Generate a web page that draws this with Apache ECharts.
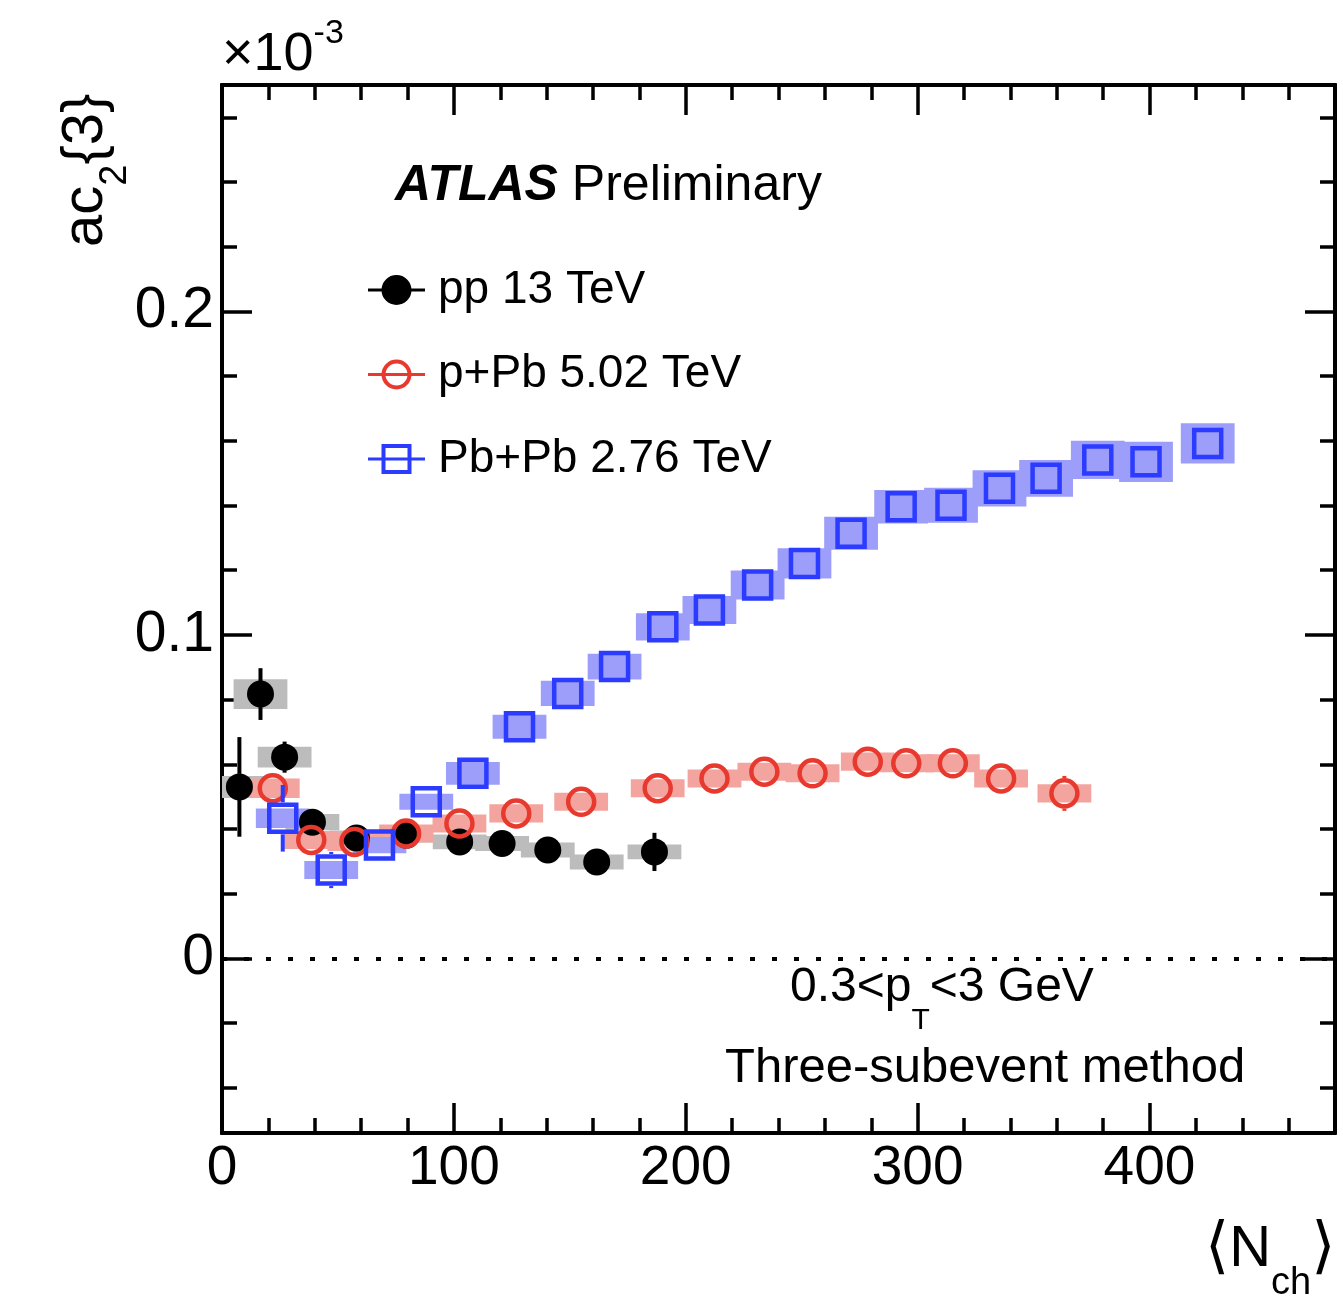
<!DOCTYPE html>
<html>
<head>
<meta charset="utf-8">
<script src="https://cdn.jsdelivr.net/npm/echarts@6/dist/echarts.min.js"></script>
<style>
  html, body { margin: 0; padding: 0; background: #fff; }
  #chart { width: 1343px; height: 1297px; }
</style>
</head>
<body>
<div id="chart"></div>
<script>
// ac2{3} versus <Nch>, values in units of 1e-3

// pp 13 TeV
const ppNch  = [7.5, 16.6, 27.0, 39.0, 58.0, 79.6, 102.5, 120.8, 140.5, 161.6, 186.5];
const ppAc   = [0.0530, 0.0817, 0.0622, 0.0421, 0.0372, 0.0381, 0.0360, 0.0355, 0.0335, 0.0298, 0.0329];
const ppStat = [0.0154, 0.0080, 0.0048, 0.0030, 0.0025, 0.0025, 0.0025, 0.0025, 0.0030, 0.0035, 0.0059];
const ppSys  = [0.0034, 0.0046, 0.0032, 0.0025, 0.0023, 0.0023, 0.0023, 0.0023, 0.0023, 0.0023, 0.0023];

// p+Pb 5.02 TeV
const pPbNch  = [21.9, 38.5, 57.1, 79.4, 102.4, 126.9, 154.9, 187.9, 212.4, 233.9, 254.7, 278.5, 295.1, 315.2, 336.0, 363.3];
const pPbAc   = [0.0526, 0.0366, 0.0360, 0.0386, 0.0417, 0.0448, 0.0484, 0.0526, 0.0556, 0.0577, 0.0572, 0.0608, 0.0603, 0.0603, 0.0556, 0.0510];
const pPbStat = [0.0035, 0.0030, 0.0025, 0.0020, 0.0020, 0.0020, 0.0020, 0.0020, 0.0022, 0.0025, 0.0028, 0.0030, 0.0033, 0.0038, 0.0045, 0.0054];
const pPbSys  = [0.0030, 0.0028, 0.0028, 0.0028, 0.0028, 0.0028, 0.0028, 0.0028, 0.0028, 0.0028, 0.0028, 0.0028, 0.0028, 0.0028, 0.0028, 0.0028];

// Pb+Pb 2.76 TeV
const PbPbNch  = [26.2, 47.1, 67.9, 88.1, 108.2, 128.3, 149.1, 169.3, 190.1, 210.2, 231.0, 251.2, 271.3, 292.9, 314.4, 335.3, 355.4, 377.7, 398.5, 425.1];
const PbPbAc   = [0.0433, 0.0273, 0.0350, 0.0484, 0.0572, 0.0716, 0.0819, 0.0902, 0.1025, 0.1077, 0.1154, 0.1221, 0.1314, 0.1396, 0.1401, 0.1453, 0.1484, 0.1541, 0.1535, 0.1592];
const PbPbStat = [0.0103, 0.0056, 0.0030, 0.0025, 0.0025, 0.0025, 0.0025, 0.0025, 0.0025, 0.0025, 0.0025, 0.0025, 0.0025, 0.0025, 0.0025, 0.0025, 0.0025, 0.0025, 0.0025, 0.0025];
const PbPbSys  = [0.0030, 0.0028, 0.0025, 0.0025, 0.0035, 0.0037, 0.0039, 0.0040, 0.0042, 0.0043, 0.0045, 0.0047, 0.0051, 0.0052, 0.0054, 0.0056, 0.0057, 0.0059, 0.0062, 0.0062];

// axis ranges and labelled ticks
const X_MIN = 0, X_MAX = 480;
const Y_MIN = -0.054, Y_MAX = 0.27;
const xTickLabels = [0, 100, 200, 300, 400];
const yTickLabels = [0, 0.1, 0.2];

const FONT = "'Liberation Sans', Arial, Helvetica, sans-serif";
const BOX_HALF_WIDTH = 11.6;   // half width of systematic boxes, in <Nch>

const BLACK = '#000000';
const GRAY_BOX = '#bcbcbc';
const RED = '#e8392e';
const RED_BOX = '#f3a49e';
const BLUE = '#2b3bff';
const BLUE_BOX = '#9d9dfa';

// minor tick positions between the labelled ones
function minorTicks(min, max, step, majors) {
  const out = [];
  const start = Math.ceil(min / step - 1e-9);
  const end = Math.floor(max / step + 1e-9);
  for (let i = start; i <= end; i++) {
    const v = Math.round(i * step * 1e6) / 1e6;
    if (v <= min || v >= max) continue;
    if (majors.some(m => Math.abs(m - v) < 1e-9)) continue;
    out.push(v);
  }
  return out;
}
const xMinor = minorTicks(X_MIN, X_MAX, 20, xTickLabels);
const yMinor = minorTicks(Y_MIN, Y_MAX, 0.02, yTickLabels);

const rows3 = (a, b, c) => a.map((v, i) => [v, b[i], c[i]]);
const rows2 = (a, b) => a.map((v, i) => [v, b[i]]);

// systematic uncertainty boxes
function boxRenderer(fill) {
  return function (params, api) {
    const x = api.value(0), y = api.value(1), s = api.value(2);
    const p1 = api.coord([x - BOX_HALF_WIDTH, y + s]);
    const p2 = api.coord([x + BOX_HALF_WIDTH, y - s]);
    const cs = params.coordSys;
    const shape = echarts.graphic.clipRectByRect(
      { x: p1[0], y: p1[1], width: p2[0] - p1[0], height: p2[1] - p1[1] },
      { x: cs.x, y: cs.y, width: cs.width, height: cs.height });
    return shape && { type: 'rect', shape: shape, style: { fill: fill } };
  };
}

// statistical error bars, drawn outside the marker only
function statRenderer(color, r) {
  return function (params, api) {
    const x = api.value(0), y = api.value(1), e = api.value(2);
    const c = api.coord([x, y]);
    const top = api.coord([x, y + e])[1];
    const bot = api.coord([x, y - e])[1];
    const children = [];
    if (c[1] - r > top) children.push({ type: 'line', shape: { x1: c[0], y1: top, x2: c[0], y2: c[1] - r }, style: { stroke: color, lineWidth: 4 } });
    if (bot > c[1] + r) children.push({ type: 'line', shape: { x1: c[0], y1: c[1] + r, x2: c[0], y2: bot }, style: { stroke: color, lineWidth: 4 } });
    return { type: 'group', children: children };
  };
}

function boxSeries(name, nch, ac, sys, fill) {
  return { type: 'custom', name: name + ' sys', xAxisIndex: 0, yAxisIndex: 0, z: 2,
    renderItem: boxRenderer(fill), encode: { x: 0, y: 1 }, data: rows3(nch, ac, sys), silent: true };
}
function statSeries(name, nch, ac, stat, color, r, z) {
  return { type: 'custom', name: name + ' stat', xAxisIndex: 0, yAxisIndex: 0, z: z,
    renderItem: statRenderer(color, r), encode: { x: 0, y: 1 }, data: rows3(nch, ac, stat), silent: true };
}

// axes: four overlaid grids carry the labelled ticks, minor ticks, and mirrored ticks
const GRID = { left: 222, right: 8, top: 85, bottom: 164 };
const grids = [0, 1, 2, 3].map(() => Object.assign({}, GRID));
const lineStyle = { color: '#000', width: 4 };

function xAxisDef(grid, pos, ticks, len, labels) {
  return {
    type: 'value', gridIndex: grid, position: pos, min: X_MIN, max: X_MAX,
    axisLine: { show: true, onZero: false, lineStyle: lineStyle },
    axisTick: { show: true, inside: true, length: len, customValues: ticks, lineStyle: { color: '#000', width: 3.5 } },
    axisLabel: labels
      ? { show: true, customValues: xTickLabels, fontSize: 55, fontFamily: FONT, color: '#000', margin: 8 }
      : { show: false },
    splitLine: { show: false }
  };
}
function yAxisDef(grid, pos, ticks, len, labels) {
  return {
    type: 'value', gridIndex: grid, position: pos, min: Y_MIN, max: Y_MAX,
    axisLine: { show: true, onZero: false, lineStyle: lineStyle },
    axisTick: { show: true, inside: true, length: len, customValues: ticks, lineStyle: { color: '#000', width: 3.5 } },
    axisLabel: labels
      ? { show: true, customValues: yTickLabels, fontSize: 57, fontFamily: FONT, color: '#000', margin: 8,
          formatter: v => String(v) }
      : { show: false },
    splitLine: { show: false }
  };
}

// text laid out in runs, for sub- and superscripts
const measureCtx = document.createElement('canvas').getContext('2d');
function textWidth(t, size, weight, style, family) {
  measureCtx.font = (style || 'normal') + ' ' + (weight || 'normal') + ' ' + size + 'px ' + (family || FONT);
  return measureCtx.measureText(t).width;
}
function textRun(pieces) {
  let x = 0;
  return pieces.map(p => {
    const el = {
      type: 'text', x: x, y: p.dy || 0,
      style: { text: p.text, fontSize: p.size, fontFamily: p.family || FONT, fontWeight: p.weight || 'normal',
               fontStyle: p.style || 'normal', fill: '#000', align: 'left', verticalAlign: 'middle' }
    };
    x += textWidth(p.text, p.size, p.weight, p.style, p.family) + (p.gap || 0);
    return el;
  });
}

// legend icons: marker with a line through it, 57x30
const ICON_PP   = 'path://M0,13.5H57V16.5H0Z M13.5,15A15,15 0 1,1 43.5,15A15,15 0 1,1 13.5,15Z';
const ICON_PPB  = 'path://M0,13.5H57V16.5H0Z M13.5,15A15,15 0 1,1 43.5,15A15,15 0 1,1 13.5,15Z M17.5,15A11,11 0 1,0 39.5,15A11,11 0 1,0 17.5,15Z';
const ICON_PBPB = 'path://M0,13.5H57V16.5H0Z M13.5,0H43.5V30H13.5Z M17.5,4V26H39.5V4Z';

const option = {
  animation: false,
  backgroundColor: '#fff',
  grid: grids,
  xAxis: [
    xAxisDef(0, 'bottom', xTickLabels, 30, true),
    xAxisDef(1, 'bottom', xMinor, 15, false),
    xAxisDef(2, 'top', xTickLabels, 30, false),
    xAxisDef(3, 'top', xMinor, 15, false)
  ],
  yAxis: [
    yAxisDef(0, 'left', yTickLabels, 30, true),
    yAxisDef(1, 'left', yMinor, 15, false),
    yAxisDef(2, 'right', yTickLabels, 30, false),
    yAxisDef(3, 'right', yMinor, 15, false)
  ],
  legend: {
    orient: 'vertical', left: 363, top: 260,
    itemWidth: 57, itemHeight: 30, itemGap: 34.5,
    selectedMode: false,
    textStyle: { fontSize: 46, lineHeight: 50, fontFamily: FONT, color: '#000', padding: [0, 0, 0, 8] },
    data: [
      { name: 'pp 13 TeV', icon: ICON_PP, itemStyle: { color: BLACK, borderWidth: 0 } },
      { name: 'p+Pb 5.02 TeV', icon: ICON_PPB, itemStyle: { color: RED, borderWidth: 0 } },
      { name: 'Pb+Pb 2.76 TeV', icon: ICON_PBPB, itemStyle: { color: BLUE, borderWidth: 0 } }
    ]
  },
  series: [
    boxSeries('pp 13 TeV', ppNch, ppAc, ppSys, GRAY_BOX),
    boxSeries('p+Pb 5.02 TeV', pPbNch, pPbAc, pPbSys, RED_BOX),
    boxSeries('Pb+Pb 2.76 TeV', PbPbNch, PbPbAc, PbPbSys, BLUE_BOX),
    statSeries('pp 13 TeV', ppNch, ppAc, ppStat, BLACK, 13, 3),
    {
      type: 'scatter', name: 'pp 13 TeV', xAxisIndex: 0, yAxisIndex: 0, z: 4,
      symbol: 'circle', symbolSize: 27,
      itemStyle: { color: BLACK, opacity: 1 },
      data: rows2(ppNch, ppAc),
      markLine: {
        silent: true, symbol: 'none', label: { show: false },
        lineStyle: { color: '#000', type: [5, 17], width: 4 },
        data: [{ yAxis: 0 }]
      }
    },
    statSeries('p+Pb 5.02 TeV', pPbNch, pPbAc, pPbStat, RED, 15, 5),
    {
      type: 'scatter', name: 'p+Pb 5.02 TeV', xAxisIndex: 0, yAxisIndex: 0, z: 6,
      symbol: 'circle', symbolSize: 26,
      itemStyle: { color: 'rgba(0,0,0,0)', borderColor: RED, borderWidth: 4.5, opacity: 1 },
      data: rows2(pPbNch, pPbAc)
    },
    statSeries('Pb+Pb 2.76 TeV', PbPbNch, PbPbAc, PbPbStat, BLUE, 16, 7),
    {
      type: 'scatter', name: 'Pb+Pb 2.76 TeV', xAxisIndex: 0, yAxisIndex: 0, z: 8,
      symbol: 'rect', symbolSize: 27,
      itemStyle: { color: 'rgba(0,0,0,0)', borderColor: BLUE, borderWidth: 4.5, opacity: 1 },
      data: rows2(PbPbNch, PbPbAc)
    }
  ],
  graphic: {
    elements: [
      { type: 'group', x: 395, y: 186, children: textRun([
          { text: 'ATLAS', size: 50, weight: 'bold', style: 'italic' },
          { text: ' Preliminary', size: 50 }]) },
      { type: 'group', x: 790, y: 988, children: textRun([
          { text: '0.3<p', size: 48 },
          { text: 'T', size: 30, dy: 33 },
          { text: '<3 GeV', size: 48 }]) },
      { type: 'group', x: 725, y: 1068, children: textRun([
          { text: 'Three-subevent method', size: 49 }]) },
      { type: 'group', x: 222, y: 55, children: textRun([
          { text: '\u00d710', size: 54 },
          { text: '-3', size: 34, dy: -21 }]) },
      { type: 'group', x: 86, y: 247, rotation: Math.PI / 2, children: textRun([
          { text: 'ac', size: 58 },
          { text: '2', size: 38, dy: 30 },
          { text: '{3}', size: 58 }]) },
      { type: 'group', x: 1205, y: 1250, children: textRun([
          { text: '\u27e8', size: 62, family: "'DejaVu Sans'" },
          { text: 'N', size: 58 },
          { text: 'ch', size: 38, dy: 34 },
          { text: '\u27e9', size: 62, family: "'DejaVu Sans'" }]) }
    ]
  }
};

const chart = echarts.init(document.getElementById('chart'), null, { renderer: 'canvas' });
chart.setOption(option);
</script>
</body>
</html>
